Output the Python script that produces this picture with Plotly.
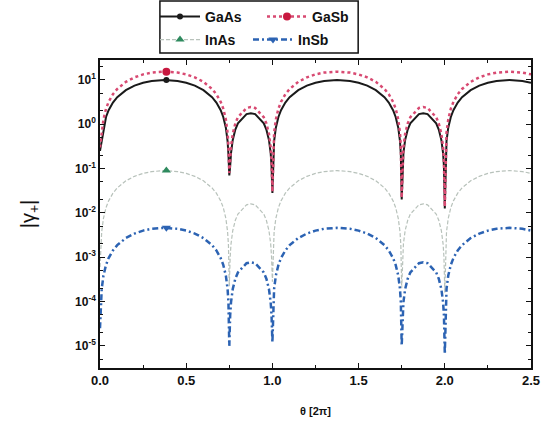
import plotly.graph_objects as go

# theta in units of 2*pi
theta = [0.0, 0.01, 0.02, 0.035, 0.05, 0.075, 0.1, 0.15, 0.2, 0.25, 0.3, 0.375, 0.45, 0.5, 0.55, 0.6, 0.65, 0.675, 0.7, 0.715, 0.73, 0.74, 0.745,
         0.75, 0.755, 0.76, 0.77, 0.785, 0.8, 0.85, 0.875, 0.9, 0.95, 0.965, 0.98, 0.99, 0.995,
         1.0, 1.01, 1.02, 1.035, 1.05, 1.075, 1.1, 1.15, 1.2, 1.25, 1.3, 1.375, 1.45, 1.5, 1.55, 1.6, 1.65, 1.675, 1.7, 1.715, 1.73, 1.74, 1.745,
         1.75, 1.755, 1.76, 1.77, 1.785, 1.8, 1.85, 1.875, 1.9, 1.95, 1.965, 1.98, 1.99, 1.995,
         2.0, 2.01, 2.02, 2.035, 2.05, 2.075, 2.1, 2.15, 2.2, 2.25, 2.3, 2.375, 2.45, 2.5]

gaas = [0.25, 0.419, 0.837, 1.46, 2.08, 3.09, 4.07, 5.88, 7.43, 8.66, 9.51, 10.0, 9.51, 8.66, 7.43, 5.88, 4.07, 3.09, 2.08, 1.46, 0.837, 0.419, 0.209,
        0.07, 0.112, 0.223, 0.443, 0.758, 1.046, 1.693, 1.78, 1.693, 1.046, 0.758, 0.443, 0.223, 0.112,
        0.028, 0.419, 0.837, 1.46, 2.08, 3.09, 4.07, 5.88, 7.43, 8.66, 9.51, 10.0, 9.51, 8.66, 7.43, 5.88, 4.07, 3.09, 2.08, 1.46, 0.837, 0.419, 0.209,
        0.02, 0.112, 0.223, 0.443, 0.758, 1.046, 1.693, 1.78, 1.693, 1.046, 0.758, 0.443, 0.223, 0.112,
        0.0126, 0.419, 0.837, 1.46, 2.08, 3.09, 4.07, 5.88, 7.43, 8.66, 9.51, 10.0, 9.51, 8.66]

gasb = [0.3, 0.645, 1.289, 2.25, 3.20, 4.76, 6.26, 9.05, 11.44, 13.34, 14.65, 15.4, 14.65, 13.34, 11.44, 9.05, 6.26, 4.76, 3.20, 2.25, 1.289, 0.645, 0.322,
        0.08, 0.154, 0.307, 0.609, 1.043, 1.44, 2.33, 2.45, 2.33, 1.44, 1.043, 0.609, 0.307, 0.154,
        0.03, 0.645, 1.289, 2.25, 3.20, 4.76, 6.26, 9.05, 11.44, 13.34, 14.65, 15.4, 14.65, 13.34, 11.44, 9.05, 6.26, 4.76, 3.20, 2.25, 1.289, 0.645, 0.322,
        0.022, 0.154, 0.307, 0.609, 1.043, 1.44, 2.33, 2.45, 2.33, 1.44, 1.043, 0.609, 0.307, 0.154,
        0.014, 0.645, 1.289, 2.25, 3.20, 4.76, 6.26, 9.05, 11.44, 13.34, 14.65, 15.4, 14.65, 13.34]

inas = [6e-4, 0.00377, 0.00753, 0.01315, 0.01871, 0.02781, 0.0366, 0.0529, 0.0669, 0.0779, 0.0856, 0.09, 0.0856, 0.0779, 0.0669, 0.0529, 0.0366, 0.02781, 0.01871, 0.01315, 0.00753, 0.00377, 0.00188,
        2.2e-4, 0.001005, 0.002005, 0.00398, 0.00681, 0.0094, 0.01522, 0.016, 0.01522, 0.0094, 0.00681, 0.00398, 0.002005, 0.001005,
        2.8e-4, 0.00377, 0.00753, 0.01315, 0.01871, 0.02781, 0.0366, 0.0529, 0.0669, 0.0779, 0.0856, 0.09, 0.0856, 0.0779, 0.0669, 0.0529, 0.0366, 0.02781, 0.01871, 0.01315, 0.00753, 0.00377, 0.00188,
        2.0e-4, 0.001005, 0.002005, 0.00398, 0.00681, 0.0094, 0.01522, 0.016, 0.01522, 0.0094, 0.00681, 0.00398, 0.002005, 0.001005,
        1.6e-4, 0.00377, 0.00753, 0.01315, 0.01871, 0.02781, 0.0366, 0.0529, 0.0669, 0.0779, 0.0856, 0.09, 0.0856, 0.0779]

insb = [2.5e-5, 1.93e-4, 3.85e-4, 6.72e-4, 9.56e-4, 1.421e-3, 1.871e-3, 2.704e-3, 3.418e-3, 3.984e-3, 4.375e-3, 4.6e-3, 4.375e-3, 3.984e-3, 3.418e-3, 2.704e-3, 1.871e-3, 1.421e-3, 9.56e-4, 6.72e-4, 3.85e-4, 1.93e-4, 9.6e-5,
        1.0e-5, 4.84e-5, 9.65e-5, 1.915e-4, 3.28e-4, 4.53e-4, 7.32e-4, 7.7e-4, 7.32e-4, 4.53e-4, 3.28e-4, 1.915e-4, 9.65e-5, 4.84e-5,
        1.2e-5, 1.93e-4, 3.85e-4, 6.72e-4, 9.56e-4, 1.421e-3, 1.871e-3, 2.704e-3, 3.418e-3, 3.984e-3, 4.375e-3, 4.6e-3, 4.375e-3, 3.984e-3, 3.418e-3, 2.704e-3, 1.871e-3, 1.421e-3, 9.56e-4, 6.72e-4, 3.85e-4, 1.93e-4, 9.6e-5,
        1.0e-5, 4.84e-5, 9.65e-5, 1.915e-4, 3.28e-4, 4.53e-4, 7.32e-4, 7.7e-4, 7.32e-4, 4.53e-4, 3.28e-4, 1.915e-4, 9.65e-5, 4.84e-5,
        6.5e-6, 1.93e-4, 3.85e-4, 6.72e-4, 9.56e-4, 1.421e-3, 1.871e-3, 2.704e-3, 3.418e-3, 3.984e-3, 4.375e-3, 4.6e-3, 4.375e-3, 3.984e-3]

# single marker position per series
marker_theta = [0.385]
marker_gaas = [10.0]
marker_gasb = [15.4]
marker_inas = [0.09]
marker_insb = [4.6e-3]

x_ticks = [0.0, 0.5, 1.0, 1.5, 2.0, 2.5]
x_ticktext = ["0.0", "0.5", "1.0", "1.5", "2.0", "2.5"]
y_ticks = [1e-5, 1e-4, 1e-3, 1e-2, 1e-1, 1e0, 1e1]
y_ticktext = ["10<sup>-5</sup>", "10<sup>-4</sup>", "10<sup>-3</sup>", "10<sup>-2</sup>",
              "10<sup>-1</sup>", "10<sup>0</sup>", "10<sup>1</sup>"]

series = [
    ("GaAs", gaas, marker_gaas, dict(color="#1a1a1a", width=2, dash="solid"), dict(symbol="circle", color="#1a1a1a", size=6), "legend"),
    ("GaSb", gasb, marker_gasb, dict(color="#d84a72", width=2.5, dash="3px,3px"), dict(symbol="circle", color="#c8183f", size=8), "legend"),
    ("InAs", inas, marker_inas, dict(color="#b8c2bb", width=1.2, dash="4px,2px"), dict(symbol="triangle-up", color="#2e8a5e", size=8), "legend2"),
    ("InSb", insb, marker_insb, dict(color="#2c63b3", width=2.5, dash="6px,3px,2px,3px"), dict(symbol="triangle-down", color="#2c63b3", size=8), "legend2"),
]

fig = go.Figure()
for name, ys, my, line, marker, lg in series:
    fig.add_trace(go.Scatter(x=theta, y=ys, mode="lines", line=line, showlegend=False, hoverinfo="skip"))
for name, ys, my, line, marker, lg in series:
    fig.add_trace(go.Scatter(x=marker_theta, y=my, mode="lines+markers", name=name, line=line,
                             marker=marker, legend=lg))

legend_font = dict(family="Liberation Sans", size=14, color="#111111", weight="bold")
fig.update_layout(
    width=558, height=428,
    margin=dict(l=100, r=27, t=60, b=60, autoexpand=False),
    paper_bgcolor="white", plot_bgcolor="white",
    font=dict(family="Liberation Sans", color="#111111"),
    legend=dict(orientation="h", xref="container", yref="container",
                x=155 / 558, xanchor="left", y=1 - 17 / 428, yanchor="middle",
                font=legend_font, bgcolor="rgba(0,0,0,0)", entrywidth=52, entrywidthmode="pixels",
                itemwidth=40, tracegroupgap=0),
    legend2=dict(orientation="h", xref="container", yref="container",
                 x=155 / 558, xanchor="left", y=1 - 40 / 428, yanchor="middle",
                 font=legend_font, bgcolor="rgba(0,0,0,0)", entrywidth=38, entrywidthmode="pixels",
                 itemwidth=40, tracegroupgap=0),
    shapes=[dict(type="rect", xref="paper", yref="paper", x0=0.139, x1=0.599, y0=1.0227, y1=1.1916,
                 line=dict(color="#111111", width=1.5), fillcolor="rgba(0,0,0,0)")],
)

fig.update_xaxes(range=[0, 2.5], tickvals=x_ticks, ticktext=x_ticktext,
                 ticks="inside", ticklen=5, tickwidth=1, tickcolor="#111111",
                 minor=dict(dtick=0.25, tick0=0, ticks="inside", ticklen=3, tickcolor="#111111"),
                 showline=True, linecolor="#111111", linewidth=1.5, mirror="ticks",
                 showgrid=False, zeroline=False,
                 tickfont=dict(family="Liberation Sans", size=13, weight="bold"),
                 title=dict(text="θ [2π]", font=dict(family="Liberation Sans", size=11, weight="bold"), standoff=20))
fig.update_yaxes(type="log", range=[-5.5, 1.45], tickvals=y_ticks, ticktext=y_ticktext,
                 ticks="inside", ticklen=5, tickwidth=1, tickcolor="#111111",
                 minor=dict(ticks="inside", ticklen=3, tickcolor="#111111"),
                 showline=True, linecolor="#111111", linewidth=1.5, mirror="ticks",
                 showgrid=False, zeroline=False,
                 tickfont=dict(family="Liberation Sans", size=12, weight="bold"),
                 title=dict(text="|γ<sub>+</sub>|", font=dict(family="Liberation Sans", size=20), standoff=34))

fig.write_html("out.html")
